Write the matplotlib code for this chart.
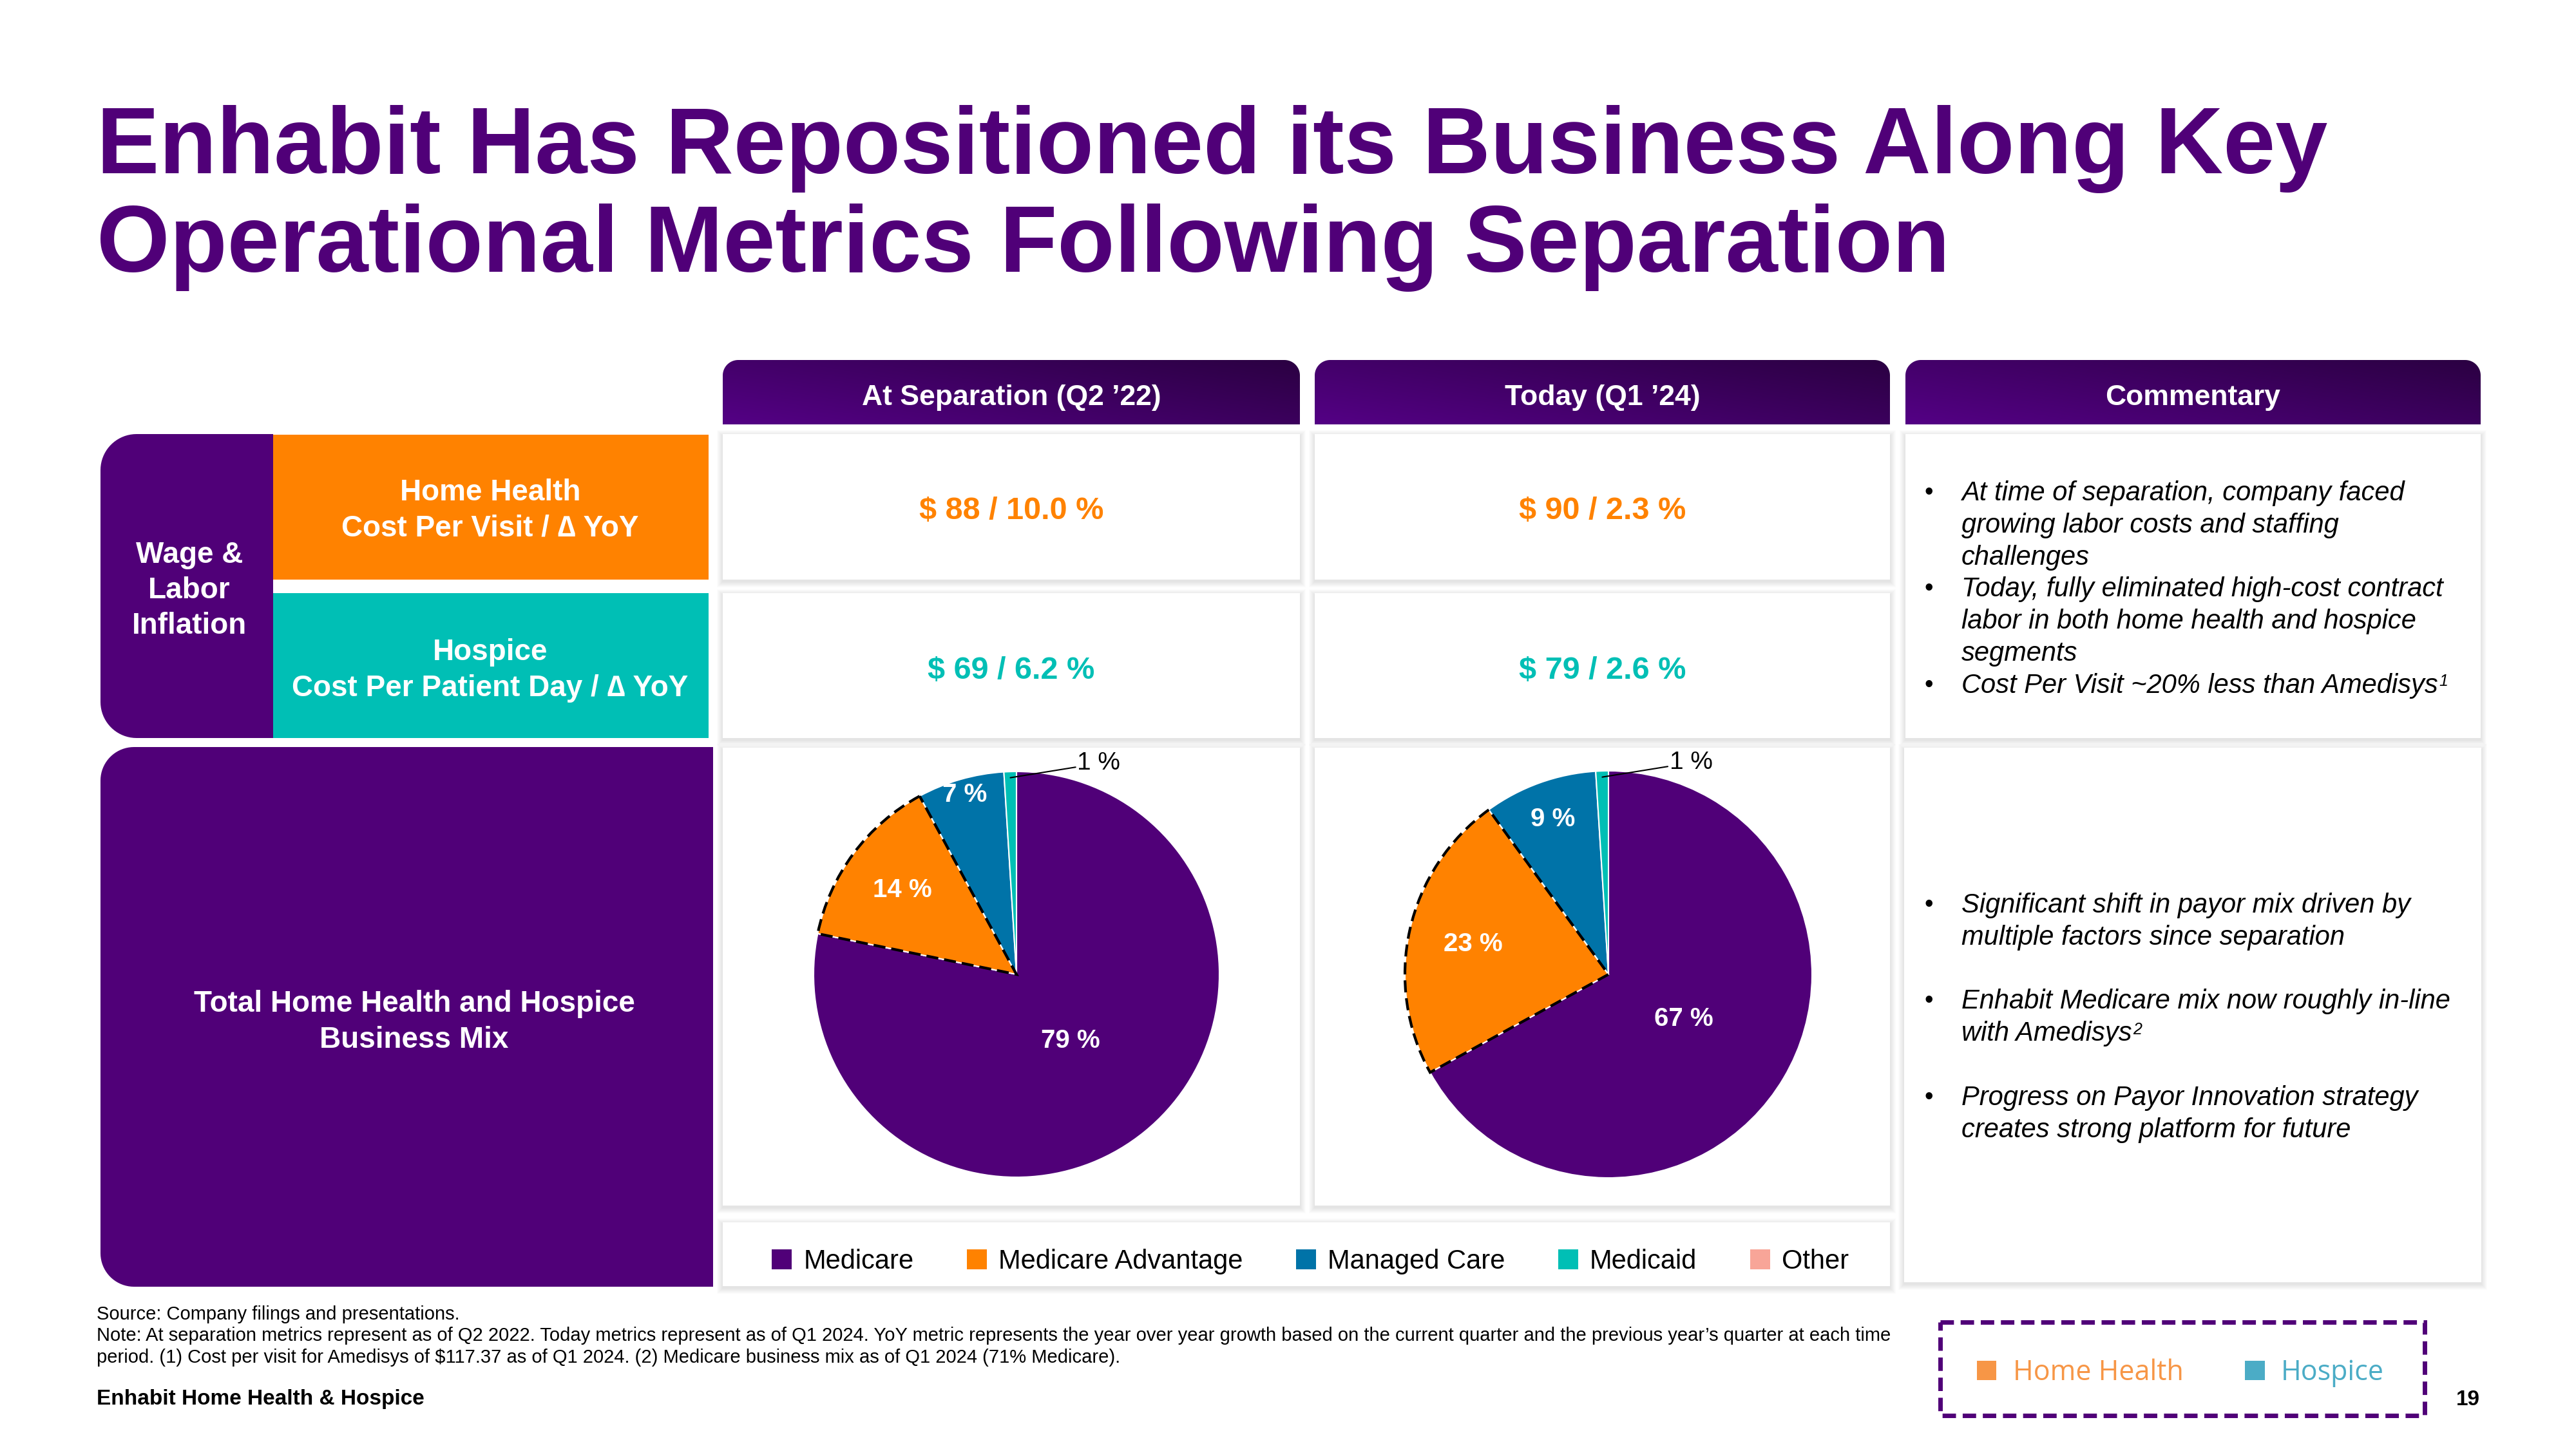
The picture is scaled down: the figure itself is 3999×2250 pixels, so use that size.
import numpy as np
import matplotlib
matplotlib.use("Agg")
import matplotlib.pyplot as plt
from matplotlib.patches import Rectangle, Polygon, Wedge, Patch
from matplotlib.colors import LinearSegmentedColormap

plt.rcParams['font.family'] = ['Liberation Sans', 'DejaVu Sans']

W, H = 3999, 2250

# ---- data ----
payors = ["Medicare", "Medicare Advantage", "Managed Care", "Medicaid", "Other"]
payor_colors = ["#500078", "#FF8200", "#0073A8", "#00BFB5", "#F8A598"]
mix_separation = [79, 14, 7, 1, 0]
mix_today = [67, 23, 9, 1, 0]

periods = ["At Separation (Q2 \u201922)", "Today (Q1 \u201924)"]
hh_cost_per_visit = [88, 90]
hh_yoy = [10.0, 2.3]
hospice_cost_per_day = [69, 79]
hospice_yoy = [6.2, 2.6]

comment_top = [
    ("\u2022", "At time of separation, company faced", ""),
    ("", "growing labor costs and staffing", ""),
    ("", "challenges", ""),
    ("\u2022", "Today, fully eliminated high-cost contract", ""),
    ("", "labor in both home health and hospice", ""),
    ("", "segments", ""),
    ("\u2022", "Cost Per Visit ~20% less than Amedisys", "1"),
]
comment_bottom = [
    ("\u2022", "Significant shift in payor mix driven by", ""),
    ("", "multiple factors since separation", ""),
    ("", "", ""),
    ("\u2022", "Enhabit Medicare mix now roughly in-line", ""),
    ("", "with Amedisys", "2"),
    ("", "", ""),
    ("\u2022", "Progress on Payor Innovation strategy", ""),
    ("", "creates strong platform for future", ""),
]

footnotes = [
    "Source: Company filings and presentations.",
    "Note: At separation metrics represent as of Q2 2022. Today metrics represent as of Q1 2024. YoY metric represents the year over year growth based on the current quarter and the previous year\u2019s quarter at each time",
    "period. (1) Cost per visit for Amedisys of $117.37 as of Q1 2024. (2) Medicare business mix as of Q1 2024 (71% Medicare).",
]

PURPLE = "#500078"
ORANGE = "#FF8200"
TEAL = "#00BFB5"

fig = plt.figure(figsize=(W / 100, H / 100), dpi=100)
ax = fig.add_axes([0, 0, 1, 1])
ax.set_xlim(0, W)
ax.set_ylim(H, 0)
ax.axis('off')


def rrect(x0, y0, x1, y1, r, corners=(True, True, True, True), **kw):
    # corners: top-left, top-right, bottom-right, bottom-left (y grows downward)
    pts = []
    specs = [((x0 + r, y0 + r), 180, 270, (x0, y0)),
             ((x1 - r, y0 + r), 270, 360, (x1, y0)),
             ((x1 - r, y1 - r), 0, 90, (x1, y1)),
             ((x0 + r, y1 - r), 90, 180, (x0, y1))]
    for rounded, (c, a0, a1, corner) in zip(corners, specs):
        if rounded:
            a = np.radians(np.linspace(a0, a1, 20))
            pts += list(zip(c[0] + r * np.cos(a), c[1] + r * np.sin(a)))
        else:
            pts.append(corner)
    p = Polygon(pts, closed=True, **kw)
    ax.add_patch(p)
    return p


def cell(x0, y0, x1, y1):
    for k in range(1, 10):
        ax.add_patch(Rectangle((x0 - k, y0 - k + 3), x1 - x0 + 2 * k, y1 - y0 + 2 * k,
                               fc='black', ec='none', alpha=0.012, zorder=1))
    ax.add_patch(Rectangle((x0, y0), x1 - x0, y1 - y0, fc='white', ec='none', zorder=2))


# ---- title ----
ax.text(150, 269, "Enhabit Has Repositioned its Business Along Key", fontsize=105,
        fontweight='bold', color=PURPLE, va='baseline', ha='left')
ax.text(150, 422, "Operational Metrics Following Separation", fontsize=105,
        fontweight='bold', color=PURPLE, va='baseline', ha='left')

# ---- column headers with gradient ----
cols = [(1122, 2018), (2041, 2934), (2958, 3851)]
headers = periods + ["Commentary"]
hdr_cmap = LinearSegmentedColormap.from_list('hdr', ['#540085', '#2B0042'])
gx, gy = np.meshgrid(np.linspace(0, 1, 200), np.linspace(0, 1, 50))
grad = gx * 0.6 + (1 - gy) * 0.4
for (x0, x1), label in zip(cols, headers):
    clip = rrect(x0, 559, x1, 659, 24, (True, True, False, False), fc='none', ec='none')
    im = ax.imshow(grad, extent=(x0, x1, 659, 559), cmap=hdr_cmap, aspect='auto',
                   interpolation='bilinear', zorder=2)
    im.set_clip_path(clip)
    ax.text((x0 + x1) / 2, 617, label, color='white', fontsize=32, fontweight='bold',
            ha='center', va='center', zorder=3)

# ---- white cells ----
for x0, x1 in cols[:2]:
    cell(x0, 674, x1, 900)
    cell(x0, 921, x1, 1146)
    cell(x0, 1161, x1, 1872)
cell(2958, 674, 3851, 1146)
cell(2956, 1161, 3852, 1991)
cell(1122, 1898, 2934, 1997)

# ---- left labels ----
ax.set_xlim(0, W)
ax.set_ylim(H, 0)
rrect(156, 674, 424, 1146, 56, (True, False, False, True), fc=PURPLE, ec='none', zorder=2)
ax.add_patch(Rectangle((424, 675), 676, 225, fc=ORANGE, ec='none', zorder=2))
ax.add_patch(Rectangle((424, 921), 676, 225, fc=TEAL, ec='none', zorder=2))
rrect(156, 1160, 1107, 1998, 52, (True, False, False, True), fc=PURPLE, ec='none', zorder=2)

lab = dict(color='white', fontsize=33, fontweight='bold', ha='center', va='center', zorder=3,
           linespacing=1.33)
ax.text(294, 917, "Wage &\nLabor\nInflation", **lab)
ax.text(761, 793, "Home Health\nCost Per Visit / \u2206 YoY", **lab)
ax.text(761, 1041, "Hospice\nCost Per Patient Day / \u2206 YoY", **lab)
ax.text(643, 1587, "Total Home Health and Hospice\nBusiness Mix", **lab)

# ---- cost values ----
for (x0, x1), c, y in zip(cols[:2], hh_cost_per_visit, hh_yoy):
    ax.text((x0 + x1) / 2, 794, f"$ {c} / {y:.1f} %", color=ORANGE, fontsize=35,
            fontweight='bold', ha='center', va='center', zorder=3)
for (x0, x1), c, y in zip(cols[:2], hospice_cost_per_day, hospice_yoy):
    ax.text((x0 + x1) / 2, 1041, f"$ {c} / {y:.1f} %", color=TEAL, fontsize=35,
            fontweight='bold', ha='center', va='center', zorder=3)

# ---- commentary ----
def bullets(lines, y_start, step=49.8):
    for i, (b, txt, sup) in enumerate(lines):
        y = y_start + i * step
        if b:
            ax.text(2994, y, b, fontsize=28, ha='center', va='center', zorder=3)
        if txt:
            t = ax.text(3045, y, txt, fontsize=30, style='italic', ha='left', va='center', zorder=3)
            if sup:
                ax.annotate(sup, xy=(1, 1), xycoords=t, xytext=(1, -1), textcoords='offset points',
                            fontsize=18, style='italic', ha='left', va='top', zorder=3)

bullets(comment_top, 766)
bullets(comment_bottom, 1406)

# ---- pies ----
pie_specs = [(mix_separation, 1578, 1513, 315, [0.42, 0.70, 0.92]),
             (mix_today, 2497, 1513, 316, [0.43, 0.68, 0.81])]
for vals, cx, cy, R, label_r in pie_specs:
    pax = fig.add_axes([(cx - 1.3 * R) / W, 1 - (cy + 1.3 * R) / H, 2.6 * R / W, 2.6 * R / H])
    pax.set_xlim(-1.3, 1.3)
    pax.set_ylim(-1.3, 1.3)
    pax.axis('off')
    keep = [i for i, v in enumerate(vals) if v > 0]
    wedges, _ = pax.pie([vals[i] for i in keep], colors=[payor_colors[i] for i in keep],
                        startangle=90, counterclock=False, radius=1,
                        wedgeprops=dict(edgecolor='white', linewidth=1.5))
    pax.set_xlim(-1.3, 1.3)
    pax.set_ylim(-1.3, 1.3)
    ma = wedges[1]
    pax.add_patch(Wedge((0, 0), 1, ma.theta1, ma.theta2, fill=False, ec='black', lw=3,
                        ls=(0, (4.5, 2.2)), zorder=4))
    for i, w in enumerate(wedges):
        v = vals[keep[i]]
        mid = np.radians((w.theta1 + w.theta2) / 2)
        if v >= 3:
            r = label_r[i]
            pax.text(r * np.cos(mid), r * np.sin(mid), f"{v} %", color='white', fontsize=29,
                     fontweight='bold', ha='center', va='center', zorder=5)
        else:
            pax.annotate(f"{v} %", xy=(0.97 * np.cos(mid), 0.97 * np.sin(mid)),
                         xytext=(0.3, 1.04), ha='left', va='center', fontsize=28, zorder=5,
                         arrowprops=dict(arrowstyle='-', color='black', lw=1.5,
                                         shrinkA=0, shrinkB=0))

# ---- payor legend ----
handles = [Patch(facecolor=c, edgecolor='none', label=l) for c, l in zip(payor_colors, payors)]
leg = ax.legend(handles=handles, loc='center', bbox_to_anchor=(2034, 1959),
                bbox_transform=ax.transData, ncol=5, frameon=False, fontsize=30,
                handlelength=0.75, handleheight=0.75, handletextpad=0.43,
                columnspacing=1.98, borderpad=0, borderaxespad=0)
leg.set_zorder(5)
ax.add_artist(leg)

# ---- segment legend (dashed box) ----
ax.add_patch(Rectangle((3012, 2053), 752, 145, fill=False, ec=PURPLE, lw=5,
                       ls=(0, (3, 1.5)), zorder=3))
seg_handles = [Patch(facecolor="#F79646", edgecolor='none', label="Home Health"),
               Patch(facecolor="#4BACC6", edgecolor='none', label="Hospice")]
leg2 = ax.legend(handles=seg_handles, loc='center', bbox_to_anchor=(3385, 2132),
                 bbox_transform=ax.transData, ncol=2, frameon=False,
                 prop={'family': 'Open Sans', 'size': 31},
                 labelcolor=["#F79646", "#4BACC6"], handlelength=0.7, handleheight=0.7,
                 handletextpad=0.59, columnspacing=2.23, borderpad=0, borderaxespad=0)

# ---- footnotes ----
for i, line in enumerate(footnotes):
    ax.text(150, 2041 + i * 33.4, line, fontsize=21, ha='left', va='center')
ax.text(150, 2173, "Enhabit Home Health & Hospice", fontsize=24, fontweight='bold',
        ha='left', va='center')
ax.text(3831, 2173, "19", fontsize=24, fontweight='bold', ha='center', va='center')

fig.savefig("out.png", dpi=100)
